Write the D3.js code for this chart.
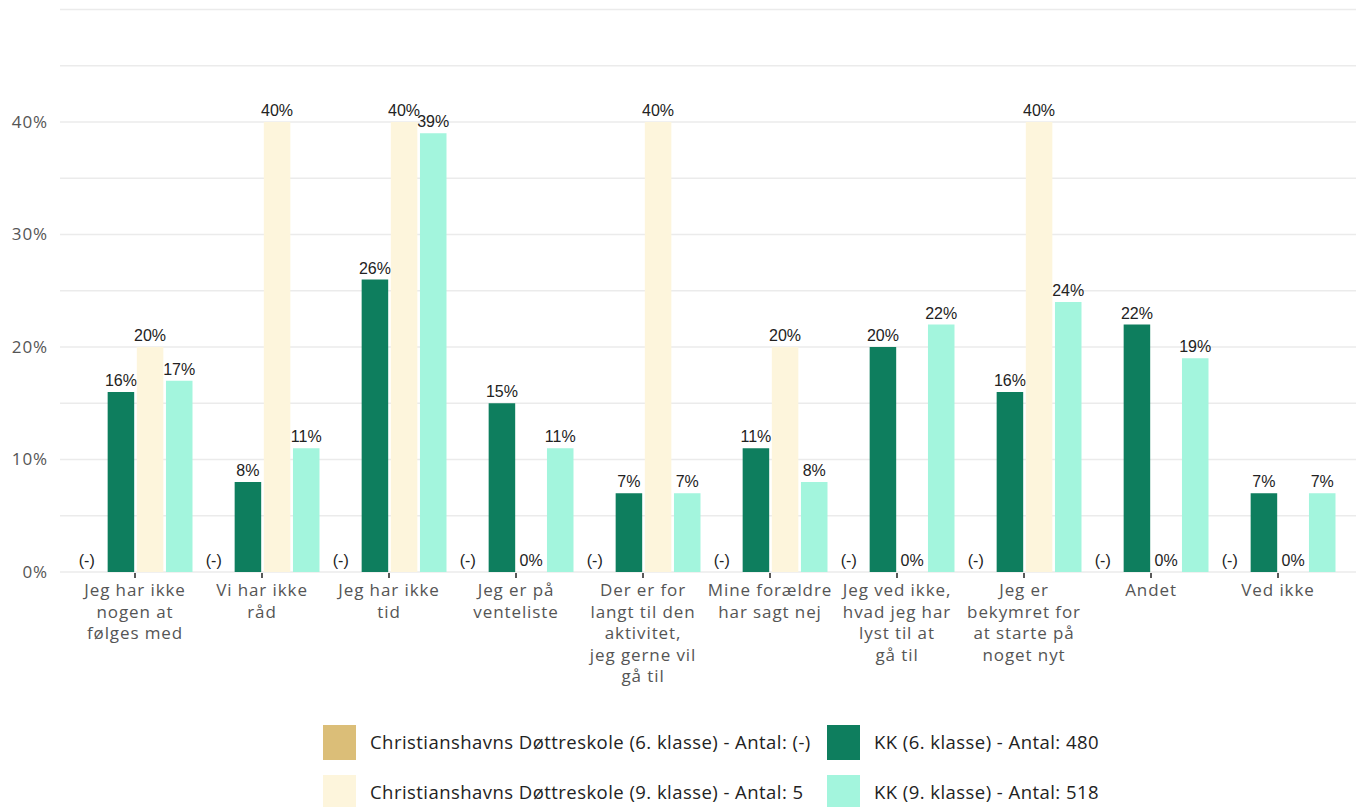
<!DOCTYPE html>
<html><head><meta charset="utf-8">
<script src="https://cdn.jsdelivr.net/npm/d3@7"></script>
<style>
html,body{margin:0;padding:0;background:#fff;}
svg{display:block;}
</style></head>
<body>
<svg id="chart" width="1356" height="807"></svg>
<script>
const categories = [
  "Jeg har ikke nogen at følges med",
  "Vi har ikke råd",
  "Jeg har ikke tid",
  "Jeg er på venteliste",
  "Der er for langt til den aktivitet, jeg gerne vil gå til",
  "Mine forældre har sagt nej",
  "Jeg ved ikke, hvad jeg har lyst til at gå til",
  "Jeg er bekymret for at starte på noget nyt",
  "Andet",
  "Ved ikke"
];
const categoryLines = [
  ["Jeg har ikke","nogen at","følges med"],
  ["Vi har ikke","råd"],
  ["Jeg har ikke","tid"],
  ["Jeg er på","venteliste"],
  ["Der er for","langt til den","aktivitet,","jeg gerne vil","gå til"],
  ["Mine forældre","har sagt nej"],
  ["Jeg ved ikke,","hvad jeg har","lyst til at","gå til"],
  ["Jeg er","bekymret for","at starte på","noget nyt"],
  ["Andet"],
  ["Ved ikke"]
];
const seriesNames = [
  "Christianshavns Døttreskole (6. klasse) - Antal: (-)",
  "KK (6. klasse) - Antal: 480",
  "Christianshavns Døttreskole (9. klasse) - Antal: 5",
  "KK (9. klasse) - Antal: 518"
];
const seriesColors = ["#dbbe78", "#0e7e5e", "#fdf5dc", "#a3f5dd"];
const cd6 = [null, null, null, null, null, null, null, null, null, null];
const kk6 = [16, 8, 26, 15, 7, 11, 20, 16, 22, 7];
const cd9 = [20, 40, 40, 0, 40, 20, 0, 40, 0, 0];
const kk9 = [17, 11, 39, 11, 7, 8, 22, 24, 19, 7];
const yTicks = [0, 10, 20, 30, 40];
const yGrid = [0, 5, 10, 15, 20, 25, 30, 35, 40, 45, 50];

const seriesValues = [cd6, kk6, cd9, kk9];
const barOrder = [0, 1, 2, 3];

const svg = d3.select("#chart");
const axisFont = "'Open Sans', sans-serif";
const valFont = "'Liberation Sans', Arial, sans-serif";

const y = d3.scaleLinear().domain([0, 50]).range([572, 9.5]);
const x = d3.scaleBand().domain(categories).range([71.5, 1341.5]).padding(0);
const xi = d3.scaleBand().domain(barOrder).range([x.bandwidth()/2 - 56.5, x.bandwidth()/2 + 57.5]).paddingInner(0.09).paddingOuter(0);

svg.append("g").selectAll("line").data(yGrid).join("line")
  .attr("x1", 60).attr("x2", 1356)
  .attr("y1", d => y(d)).attr("y2", d => y(d))
  .attr("stroke", "#ebebeb").attr("stroke-width", 1.6);

svg.append("g").selectAll("text").data(yTicks).join("text")
  .attr("x", 48).attr("y", d => y(d)).attr("dy", "0.35em")
  .attr("text-anchor", "end")
  .attr("font-family", axisFont).attr("font-size", 17).attr("letter-spacing", 0.9).attr("fill", "#555")
  .text(d => d + "%");

const groups = svg.append("g").selectAll("g").data(categories).join("g")
  .attr("transform", d => `translate(${x(d)},0)`);

groups.each(function(cat, ci) {
  const g = d3.select(this);
  barOrder.forEach(si => {
    const v = seriesValues[si][ci];
    const bx = xi(si);
    const bw = xi.bandwidth();
    if (v === null) {
      g.append("text").attr("x", bx + bw/2 - 5).attr("y", 566)
        .attr("text-anchor", "middle")
        .attr("font-family", valFont).attr("font-size", 16).attr("fill", "#222")
        .text("(-)");
      return;
    }
    if (v > 0) {
      g.append("rect").attr("x", bx).attr("y", y(v))
        .attr("width", bw).attr("height", y(0) - y(v))
        .attr("fill", seriesColors[si]);
    }
    g.append("text").attr("x", bx + bw/2).attr("y", v > 0 ? y(v) - 6 : 566)
      .attr("text-anchor", "middle")
      .attr("font-family", valFont).attr("font-size", 16).attr("fill", "#222")
      .text(v + "%");
  });
});

const xt = svg.append("g").selectAll("g").data(categories).join("g")
  .attr("transform", d => `translate(${x(d) + x.bandwidth()/2},0)`);
xt.append("line").attr("y1", 573).attr("y2", 578).attr("stroke", "#222").attr("stroke-width", 1.5);
xt.each(function(cat, ci) {
  const t = d3.select(this).append("text")
    .attr("text-anchor", "middle")
    .attr("font-family", axisFont).attr("font-size", 17).attr("letter-spacing", 0.9).attr("fill", "#555");
  categoryLines[ci].forEach((ln, li) => {
    t.append("tspan").attr("x", 0).attr("y", 596 + li * 21.5).text(ln);
  });
});

const legendPos = [[323, 725], [827, 725], [323, 775], [827, 775]];
const lg = svg.append("g").selectAll("g").data(seriesNames).join("g")
  .attr("transform", (d, i) => `translate(${legendPos[i][0]},${legendPos[i][1]})`);
lg.append("rect").attr("width", 33).attr("height", 35).attr("fill", (d, i) => seriesColors[i]);
lg.append("text").attr("x", 47).attr("y", 18).attr("dy", "0.35em")
  .attr("font-family", axisFont).attr("font-size", 18.5).attr("letter-spacing", 0.45).attr("fill", "#222")
  .text(d => d);
</script>
</body></html>
